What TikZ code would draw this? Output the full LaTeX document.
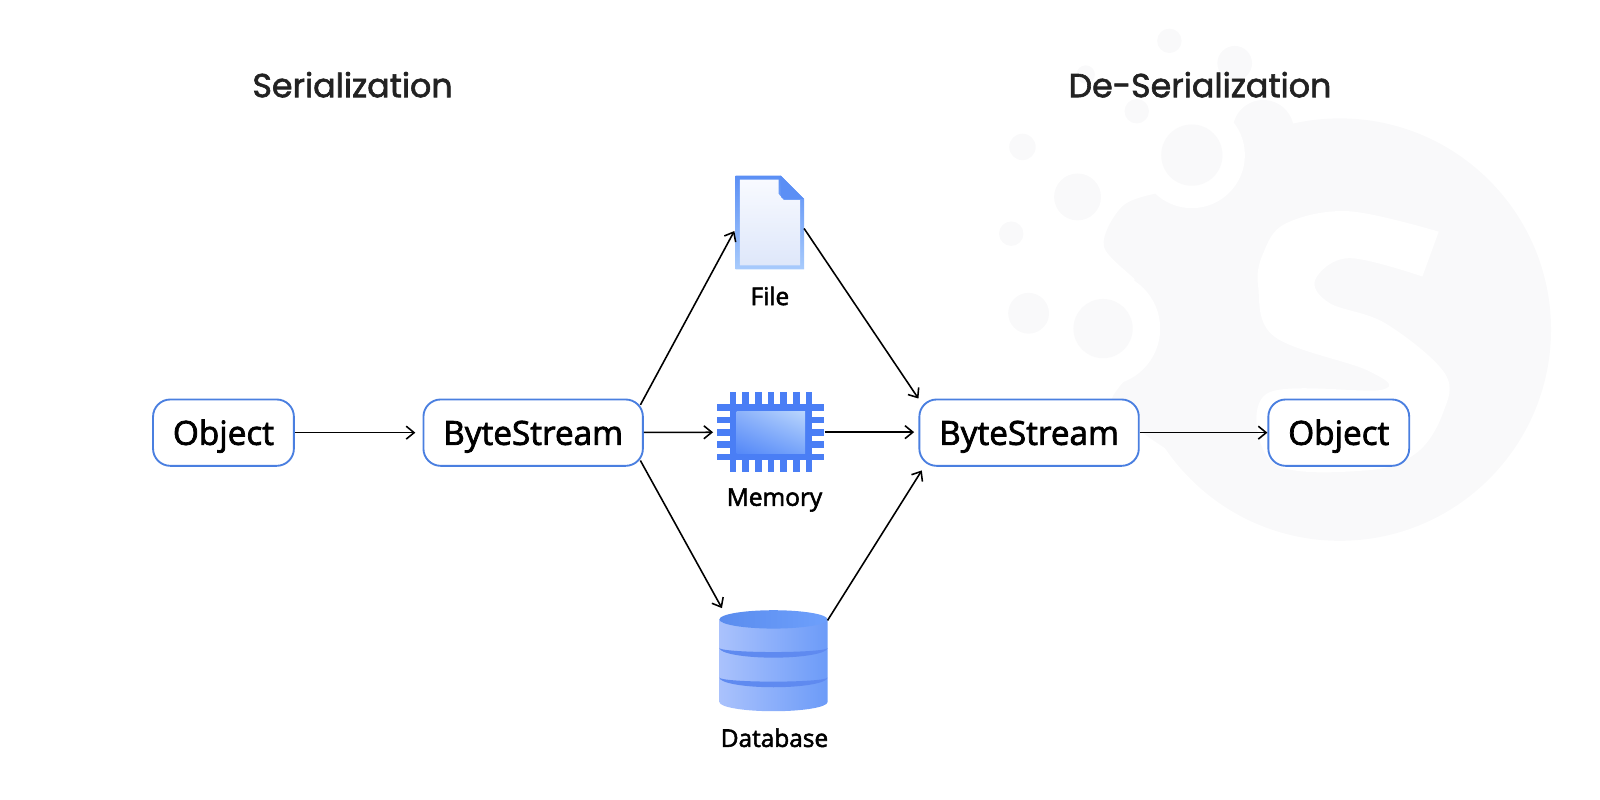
\documentclass[tikz,border=0pt]{standalone}
\usepackage{fontspec}
\setmainfont[FakeBold=2.2]{Open Sans}
\newfontfamily\headfont[FakeBold=1.8]{Poppins}
\usetikzlibrary{arrows.meta,shadings}
\definecolor{markgray}{HTML}{F9F9FA}
\definecolor{boxblue}{HTML}{4A7FE0}
\definecolor{chipblue}{HTML}{4A7EF5}
\definecolor{headgray}{HTML}{222222}
\definecolor{fileedgetop}{HTML}{5B8FF5}
\definecolor{fileedgelow}{HTML}{A8CBFC}
\definecolor{filetop}{HTML}{F8FAFF}
\definecolor{filelow}{HTML}{DEE7FA}
\definecolor{chipll}{HTML}{5488F8}
\definecolor{chipur}{HTML}{BAD6FD}
\definecolor{chipul}{HTML}{8CB2FA}
\definecolor{chiplr}{HTML}{78A5FA}
\definecolor{dbleft}{HTML}{AAC2FC}
\definecolor{dbright}{HTML}{6C9BF8}
\definecolor{dbband}{HTML}{5F8AF0}
\definecolor{dbtopl}{HTML}{5A8CEE}
\definecolor{dbtopr}{HTML}{6EA0FC}
\tikzset{
  boxnode/.style={draw=boxblue,line width=1.3pt,rounded corners=12pt,fill=white,
    minimum height=1.625cm,inner sep=0pt,text height=20pt,text depth=3pt,
    font=\fontsize{23.2}{26}\selectfont},
  iconnode/.style={inner sep=0pt,outer sep=0pt},
  flow/.style={-{Straight Barb[length=5.5pt,width=9pt]},line width=1.1pt,black},
  headnode/.style={text=headgray,font=\headfont\fontsize{23.2}{26}\selectfont},
  iconlabel/.style={black,font=\fontsize{17}{20}\selectfont},
  markfill/.style={fill=markgray,draw=none}
}

\begin{document}
\begin{tikzpicture}[x=0.025cm,y=-0.025cm]
   \useasboundingbox (0,0) rectangle (1568,784);
   % watermark
   \fill[markfill] (1313,323) circle (207);
   \fill[markfill] (1238,128) circle (30);
   \fill[markfill] plot[smooth cycle] coordinates {(1160,193) (1137,189) (1100,202) (1082,242) (1122,284) (1137,323)
      (1126,350) (1097,379) (1092,400) (1143,440) (1250,500) (1400,400) (1300,250) (1190,190)};
   \fill[white] (1168,152) circle (52);
   \fill[white] (1081,322) circle (56);
   \foreach \cx/\cy/\cr in {1146/40/12,1210/62/17,1064/73/9,1114/109/12,1002/144/13,
      1168/152/30,1056/193/23,991/229/12,1008/307/20,1081/322/29}
      \fill[markfill] (\cx,\cy) circle (\cr);
   \fill[white] plot[smooth,tension=0.6] coordinates {(1410,227) (1322,207) (1260,219) (1238,248) (1233,281) (1249,330)
      (1340,363) (1354,382) (1241,386) (1248,454) (1339,461) (1388,444) (1414,405) (1416,366)
      (1358,317) (1303,297) (1289,274) (1322,253) (1394,271)} -- cycle;

   % headings
   \node[headnode] (headL) at (345.5,83) {Serialization};
   \node[headnode] (headR) at (1176,83) {De-Serialization};

   % boxes
   \node[boxnode,minimum width=3.45cm] (objA) at (219,424) {Object};
   \node[boxnode,minimum width=5.375cm] (byteA) at (522.5,424) {ByteStream};
   \node[boxnode,minimum width=5.375cm] (byteB) at (1008.5,424) {ByteStream};
   \node[boxnode,minimum width=3.45cm] (objB) at (1312,424) {Object};

   % file
   \node[iconnode,minimum width=1.675cm,minimum height=2.3cm] (file) at (754.5,218) {};
   \shade[top color=fileedgetop,bottom color=fileedgelow]
      (721,172) -- (765,172) -- (788,195) -- (788,264) -- (721,264) -- cycle;
   \shade[top color=filetop,bottom color=filelow]
      (725,176) -- (763,176) -- (763,190) -- (768,196) -- (784,196) -- (784,260) -- (725,260) -- cycle;
   \fill[fileedgetop] (765,172) -- (788,195) -- (769,195)
      .. controls (766,195) and (765,193) .. (765,190) -- cycle;
   \node[iconlabel] (fileL) at (754.5,290) {File};

   % memory
   \node[iconnode,minimum width=2.625cm,minimum height=1.975cm] (memory) at (755.5,423.5) {};
   \foreach \k in {0,...,6}{
      \fill[chipblue] (715+\k*12.4,384) rectangle +(6.6,79);
   }
   \foreach \k in {0,...,4}{
      \fill[chipblue] (703,396+\k*12.2) rectangle +(105,6.4);
   }
   \fill[chipblue] (715,396) rectangle (796,451);
   \shade[lower left=chipll,upper right=chipur,upper left=chipul,lower right=chiplr]
      (722,403) rectangle (789,444);
   \node[iconlabel] (memoryL) at (759,490) {Memory};

   % database
   \node[iconnode,minimum width=2.65cm,minimum height=2.525cm] (database) at (758,646.5) {};
   \shade[left color=dbleft,right color=dbright]
      (705,607) -- (705,688) arc[start angle=180,end angle=0,x radius=53,y radius=9]
      -- (811,607) -- cycle;
   \foreach \by in {635,664}{
      \fill[dbband] (705,\by) arc[start angle=180,end angle=0,x radius=53,y radius=9.5]
         -- (811,\by) arc[start angle=0,end angle=180,x radius=53,y radius=4] -- cycle;
   }
   \shade[left color=dbtopl,right color=dbtopr]
      (758,607) ellipse [x radius=53,y radius=9];
   \node[iconlabel] (databaseL) at (759,723) {Database};

   % connectors
   \draw[flow,shorten >=5] (objA) -- (byteA);
   \draw[flow,shorten >=3] (byteA) -- (memory);
   \draw[flow,shorten >=3] (memory.east) -- (byteB.west |- memory.east);
   \draw[flow] (byteB) -- (objB);
   \draw[flow,shorten <=-5,shorten >=2] (byteA.north east) -- (file.190);
   \draw[flow] (file.-10) -- (byteB.north west);
   \draw[flow,shorten <=-5] (byteA.south east) -- (database.135);
   \draw[flow,shorten >=3] (database.36) -- (byteB.198);
\end{tikzpicture}
\end{document}
